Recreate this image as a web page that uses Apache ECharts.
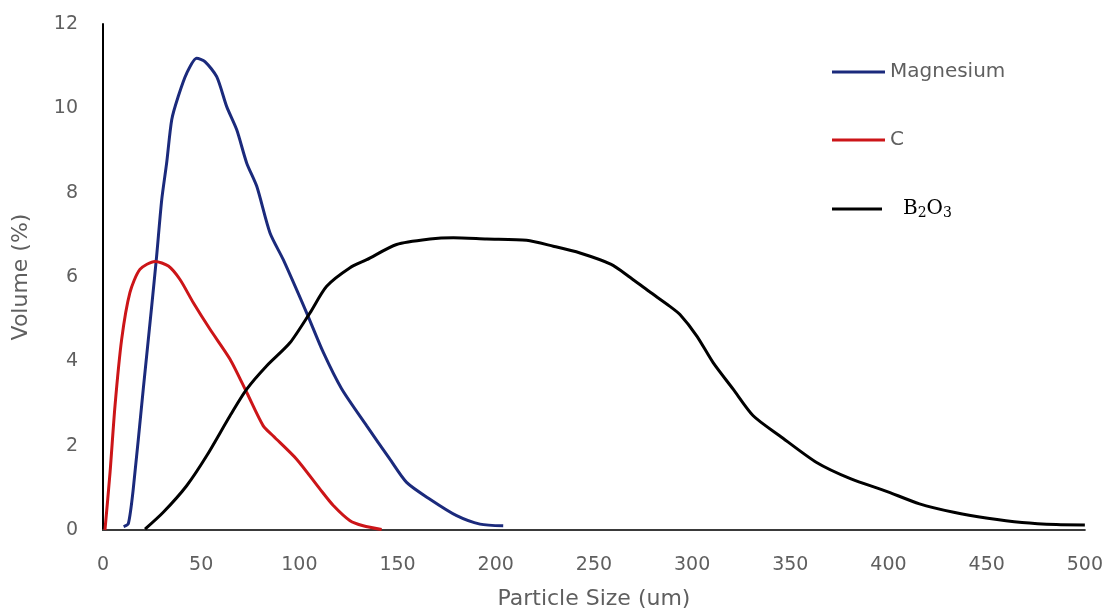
<!DOCTYPE html>
<html>
<head>
<meta charset="utf-8">
<script src="https://cdn.jsdelivr.net/npm/echarts@6/dist/echarts.min.js"></script>
<style>
  html, body { margin: 0; padding: 0; background: #fff; }
  #chart { width: 1106px; height: 615px; }
</style>
</head>
<body>
<div id="chart"></div>
<script>
// particle size (um) / volume (%)
const mgSize = [10.5, 12.9, 15.4, 20.5, 24.8, 27.3, 29.9, 32.4, 35, 38.3, 42.6, 47.7, 51.9, 57.9, 63, 68.1, 73.2, 78.3, 85, 91.8, 103.7, 112.2, 121.5, 134.3, 146.1, 154.6, 166.5, 180.1, 192, 203.8]
const mgVolume = [0.08, 0.15, 0.97, 3.34, 5.31, 6.49, 7.83, 8.7, 9.73, 10.28, 10.83, 11.19, 11.11, 10.75, 10.04, 9.49, 8.7, 8.15, 7.05, 6.41, 5.15, 4.21, 3.35, 2.47, 1.68, 1.13, 0.73, 0.34, 0.14, 0.1]

const cSize = [1, 3.6, 6.1, 9.5, 13.7, 18.8, 26.5, 33.3, 39.2, 46, 54.5, 64.7, 73.2, 81.6, 86.7, 98.6, 110.5, 117.3, 125.8, 132.5, 141.9]
const cVolume = [0, 1.37, 2.94, 4.52, 5.63, 6.18, 6.37, 6.26, 5.94, 5.39, 4.76, 4.05, 3.26, 2.47, 2.23, 1.68, 0.97, 0.58, 0.22, 0.1, 0.01]

const b2o3Size = [21.4, 30.7, 42.6, 52.8, 64.7, 73.2, 83.3, 95.2, 105.4, 113.9, 125.8, 134.3, 149.5, 166.5, 178.4, 195.4, 215.7, 229.3, 242.9, 258.8, 267.6, 278, 288.5, 293.8, 302.4, 310.7, 320.9, 331.1, 344.7, 363.4, 380.9, 398.3, 415.8, 433.2, 450.6, 468, 485.5, 500]
const b2o3Volume = [0.02, 0.42, 1.05, 1.76, 2.71, 3.34, 3.89, 4.44, 5.15, 5.78, 6.22, 6.41, 6.77, 6.9, 6.93, 6.9, 6.87, 6.73, 6.57, 6.3, 6.02, 5.66, 5.31, 5.11, 4.6, 3.97, 3.34, 2.71, 2.23, 1.6, 1.21, 0.93, 0.62, 0.42, 0.28, 0.18, 0.13, 0.12]

const seriesNames = ['Magnesium', 'C', 'B₂O₃']
const seriesColors = ['#1b2a7c', '#cc1518', '#000000']

function pairs (xs, ys) {
  return xs.map(function (x, i) { return [x, ys[i]] })
}

const chart = echarts.init(document.getElementById('chart'))

const sansText = { fontFamily: 'DejaVu Sans', fontSize: 19, color: '#5f5f5f' }
const titleText = { fontFamily: 'DejaVu Sans', fontSize: 22, color: '#5f5f5f' }

const legendBase = {
  orient: 'vertical',
  left: 832,
  padding: 0,
  icon: 'rect',
  itemWidth: 53,
  itemHeight: 3,
  textStyle: Object.assign({}, sansText, { lineHeight: 20, fontSize: 20 })
}

chart.setOption({
  animation: false,
  color: seriesColors,
  legend: [
    Object.assign({}, legendBase, { top: 62, data: [seriesNames[0]] }),
    Object.assign({}, legendBase, { top: 130, data: [seriesNames[1]] }),
    Object.assign({}, legendBase, {
      top: 198,
      itemWidth: 50,
      data: [seriesNames[2]],
      // chemical formula with real subscripts
      formatter: function () { return '{m|B}{s|2}{m|O}{s|3}' },
      textStyle: {
        fontFamily: 'DejaVu Serif',
        fontSize: 20,
        lineHeight: 20,
        color: '#000',
        padding: [0, 0, 0, 16],
        rich: {
          m: { fontFamily: 'DejaVu Serif', fontSize: 20, lineHeight: 20, color: '#000' },
          s: { fontFamily: 'DejaVu Serif', fontSize: 14, lineHeight: 20, color: '#000', padding: [8, 0, 0, 0] }
        }
      }
    })
  ],
  grid: { left: 103, right: 21, top: 24, bottom: 84 },
  xAxis: {
    type: 'value',
    min: 0,
    max: 500,
    interval: 50,
    name: 'Particle Size (um)',
    nameLocation: 'middle',
    nameGap: 58,
    nameTextStyle: titleText,
    axisLine: { show: true, lineStyle: { color: '#3a3a3a', width: 2 } },
    axisTick: { show: false },
    splitLine: { show: false },
    axisLabel: Object.assign({ margin: 26 }, sansText)
  },
  yAxis: {
    type: 'value',
    min: 0,
    max: 12,
    interval: 2,
    name: 'Volume (%)',
    nameLocation: 'middle',
    nameGap: 71,
    nameTextStyle: titleText,
    axisLine: { show: true, lineStyle: { color: '#000', width: 2 } },
    axisTick: { show: false },
    splitLine: { show: false },
    axisLabel: Object.assign({ margin: 25 }, sansText)
  },
  series: [
    {
      name: seriesNames[0],
      type: 'line',
      smooth: 0.25,
      showSymbol: false,
      lineStyle: { width: 3 },
      data: pairs(mgSize, mgVolume)
    },
    {
      name: seriesNames[1],
      type: 'line',
      smooth: 0.25,
      showSymbol: false,
      lineStyle: { width: 3 },
      data: pairs(cSize, cVolume)
    },
    {
      name: seriesNames[2],
      type: 'line',
      smooth: 0.25,
      showSymbol: false,
      lineStyle: { width: 3 },
      data: pairs(b2o3Size, b2o3Volume)
    }
  ]
})
</script>
</body>
</html>
